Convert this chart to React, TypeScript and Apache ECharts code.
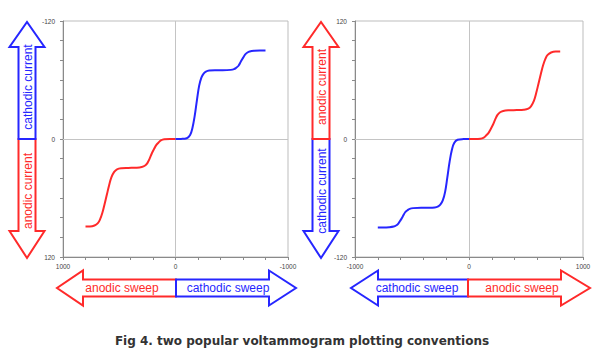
import React, { useEffect, useRef } from "react";
import * as echarts from "echarts";

// Potential (mV) and current values
const cathodicE = [0, -50, -100, -130, -150, -170, -190, -210, -230, -250, -270, -300, -350, -420, -490, -520, -540, -560, -580, -600, -620, -640, -660, -700, -750, -800];
const cathodicI = [0, -0.1, -0.8, -4, -11, -23, -39, -54, -62.5, -66.5, -68.5, -69.7, -70, -70, -70.3, -71, -72.5, -74.5, -78.5, -82.5, -86, -88, -89, -89.7, -90, -90];
const anodicE = [0, 50, 100, 130, 150, 170, 190, 210, 230, 250, 270, 300, 350, 420, 480, 520, 545, 570, 590, 610, 630, 650, 670, 690, 720, 760, 800];
const anodicI = [0, 0, 0.3, 1.5, 3.5, 6, 10, 14.5, 20, 24.5, 27, 28.5, 29.2, 29.4, 29.7, 30.8, 33.5, 39, 47, 56.5, 66, 75, 81.5, 85.5, 88, 89, 89];

const xTickLabels = [-1000, 0, 1000];
const yTickLabels = [-120, 0, 120];

const BLUE = "#2626ff";
const RED = "#ff2a2a";
const FONT = '"Liberation Sans", Arial, sans-serif';

function vArrow(cx: number, topColor: string, botColor: string, topText: string, botText: string) {
  const sw = 8.5, hw = 17.5, tip1 = 22, barb1 = 47, mid = 139, barb2 = 231, tip2 = 258;
  return [
    {
      type: "polygon",
      shape: { points: [[cx - sw, mid], [cx - sw, barb2], [cx - hw, barb2], [cx, tip2], [cx + hw, barb2], [cx + sw, barb2], [cx + sw, mid]] },
      style: { fill: "#fff", stroke: botColor, lineWidth: 2 },
    },
    {
      type: "polygon",
      shape: { points: [[cx - sw, mid], [cx - sw, barb1], [cx - hw, barb1], [cx, tip1], [cx + hw, barb1], [cx + sw, barb1], [cx + sw, mid]] },
      style: { fill: "#fff", stroke: topColor, lineWidth: 2 },
    },
    {
      type: "text", x: cx + 0.5, y: 87, rotation: Math.PI / 2, z: 10,
      style: { text: topText, fill: topColor, fontSize: 12, fontFamily: FONT, align: "center", verticalAlign: "middle" },
    },
    {
      type: "text", x: cx + 0.5, y: 191, rotation: Math.PI / 2, z: 10,
      style: { text: botText, fill: botColor, fontSize: 12, fontFamily: FONT, align: "center", verticalAlign: "middle" },
    },
  ];
}

function hArrow(tipL: number, barbL: number, mid: number, barbR: number, tipR: number,
  leftColor: string, rightColor: string, leftText: string, rightText: string, leftX: number, rightX: number) {
  const cy = 288, sh = 8.5, hh = 17.5;
  return [
    {
      type: "polygon",
      shape: { points: [[mid, cy - sh], [barbL, cy - sh], [barbL, cy - hh], [tipL, cy], [barbL, cy + hh], [barbL, cy + sh], [mid, cy + sh]] },
      style: { fill: "#fff", stroke: leftColor, lineWidth: 2 },
    },
    {
      type: "polygon",
      shape: { points: [[mid, cy - sh], [barbR, cy - sh], [barbR, cy - hh], [tipR, cy], [barbR, cy + hh], [barbR, cy + sh], [mid, cy + sh]] },
      style: { fill: "#fff", stroke: rightColor, lineWidth: 2 },
    },
    {
      type: "text", x: leftX, y: cy, z: 10,
      style: { text: leftText, fill: leftColor, fontSize: 12, fontFamily: FONT, align: "center", verticalAlign: "middle" },
    },
    {
      type: "text", x: rightX, y: cy, z: 10,
      style: { text: rightText, fill: rightColor, fontSize: 12, fontFamily: FONT, align: "center", verticalAlign: "middle" },
    },
  ];
}

export default function App() {
  const ref = useRef<HTMLDivElement>(null);
  useEffect(() => {
    if (!ref.current) return;
    const chart = echarts.init(ref.current, undefined, { renderer: "svg" });
    const cath = cathodicE.map((e, i) => [e, cathodicI[i]]);
    const anod = anodicE.map((e, i) => [e, anodicI[i]]);

    const xAxisBase = (grid: number, inverse: boolean) => ({
      gridIndex: grid, type: "value", min: -1000, max: 1000, interval: 200, inverse,
      axisLine: { onZero: false, lineStyle: { color: "#8a8a8a", width: 1 } },
      axisTick: { length: 3, lineStyle: { color: "#8a8a8a" } },
      splitLine: { show: false },
      axisLabel: {
        fontSize: 6.5, color: "#444", fontFamily: FONT, margin: 6, showMinLabel: true, showMaxLabel: true,
        formatter: (v: number) => (xTickLabels.includes(v) ? String(v) : ""),
      },
    });
    const yAxisBase = (grid: number, inverse: boolean) => ({
      gridIndex: grid, type: "value", min: -120, max: 120, interval: 20, inverse,
      axisLine: { show: true, onZero: false, lineStyle: { color: "#8a8a8a", width: 1 } },
      axisTick: { show: true, length: 3, lineStyle: { color: "#8a8a8a" } },
      splitLine: { show: false },
      axisLabel: {
        fontSize: 6.5, color: "#444", fontFamily: FONT, margin: 8, showMinLabel: true, showMaxLabel: true,
        formatter: (v: number) => (yTickLabels.includes(v) ? String(v) : ""),
      },
    });
    const zeroLines = {
      silent: true, symbol: ["none", "none"], label: { show: false },
      lineStyle: { color: "#c4c4c4", width: 1, type: "solid" },
      data: [{ xAxis: 0 }, { yAxis: 0 }],
    };
    const line = (name: string, data: number[][], color: string, idx: number, mark: boolean) => ({
      name, type: "line", data, xAxisIndex: idx, yAxisIndex: idx, smooth: 0.4, showSymbol: false,
      lineStyle: { color, width: 2 }, z: 5,
      ...(mark ? { markLine: zeroLines } : {}),
    });

    chart.setOption({
      animation: false,
      backgroundColor: "#fff",
      grid: [
        { left: 63, top: 21, width: 225, height: 236, show: true, borderColor: "#bdbdbd", borderWidth: 1, backgroundColor: "transparent" },
        { left: 355, top: 21, width: 228, height: 236, show: true, borderColor: "#bdbdbd", borderWidth: 1, backgroundColor: "transparent" },
      ],
      xAxis: [xAxisBase(0, true), xAxisBase(1, false)],
      yAxis: [yAxisBase(0, true), yAxisBase(1, false)],
      series: [
        line("anodic-left", anod, RED, 0, true),
        line("cathodic-left", cath, BLUE, 0, false),
        line("anodic-right", anod, RED, 1, true),
        line("cathodic-right", cath, BLUE, 1, false),
      ],
      graphic: [
        ...vArrow(27, BLUE, RED, "cathodic current", "anodic current"),
        ...vArrow(321, RED, BLUE, "anodic current", "cathodic current"),
        ...hArrow(57, 83, 176, 269, 296, RED, BLUE, "anodic sweep", "cathodic sweep", 122, 228),
        ...hArrow(351, 378, 468, 561, 590, BLUE, RED, "cathodic sweep", "anodic sweep", 417, 522),
        {
          type: "text", x: 302, y: 341,
          style: {
            text: "Fig 4. two popular voltammogram plotting conventions",
            fill: "#333", fontSize: 12, fontWeight: "bold", fontFamily: '"DejaVu Sans", sans-serif',
            align: "center", verticalAlign: "middle",
          },
        },
      ],
    });
    return () => chart.dispose();
  }, []);
  return <div ref={ref} style={{ position: "absolute", left: 0, top: 0, width: 599, height: 354 }} />;
}
